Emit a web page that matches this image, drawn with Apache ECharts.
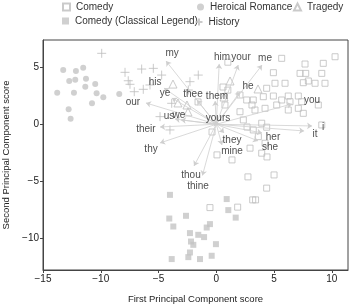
<!DOCTYPE html>
<html>
<head>
<meta charset="utf-8">
<script src="https://cdn.jsdelivr.net/npm/echarts@6/dist/echarts.min.js"></script>
<style>
  html, body { margin: 0; padding: 0; background: #fff; }
  #chart { width: 350px; height: 305px; }
</style>
</head>
<body>
<div id="chart"></div>
<script>
// scores, [PC1, PC2]
const comedy = [
  [5.66, 5.79], [7.68, 5.29], [9.26, 5.35], [10.28, 5.93], [4.94, 4.53], [7.25, 4.47],
  [7.74, 4.47], [9.13, 4.47], [5.08, 3.6], [5.95, 3.6], [7.53, 3.65], [7.97, 3.8],
  [8.55, 3.6], [9.41, 3.6], [4.36, 3.16], [2.05, 2.57], [2.63, 2.13], [3.2, 2.13],
  [4.07, 2.42], [4.94, 2.48], [5.66, 2.13], [6.23, 2.48], [6.38, 1.98], [7.1, 2.48],
  [7.39, 1.98], [8.83, 1.69], [4.22, 1.4], [5.23, 1.69], [6.23, 1.25], [7.1, 1.4],
  [7.53, 0.96], [2.05, 1.1], [2.34, 0.38], [3.93, 0.09], [4.36, -0.26], [3.2, -0.5],
  [3.64, -1.09], [4.22, -1.67], [2.92, -2.1], [3.93, -2.54], [9.13, -0.06], [-1.58, 1.96],
  [0.58, 3.27], [0.75, 1.69], [3.09, 1.69], [3.35, 1.25], [2.66, -0.24], [-0.37, -0.68],
  [0.06, -2.69], [1.36, -3.13], [4.39, -2.87], [2.74, -4.62], [-0.55, -7.32], [1.85, -7.28],
  [5.0, -4.45], [4.36, -5.61], [3.15, -6.64], [3.4, -6.64], [1.0, 3.0], [1.0, 5.45]
];
const comedyLegend = [
  [-4.01, -6.2], [0.9, -6.57], [1.04, -7.54], [1.68, -8.2], [-2.62, -8.04], [-4.07, -8.28],
  [-3.72, -8.98], [-0.55, -8.77], [-0.83, -9.07], [-2.28, -9.56], [-1.56, -9.71], [-1.06, -9.91],
  [-2.19, -10.3], [-1.99, -10.59], [-0.03, -10.53], [-2.28, -11.26], [-2.42, -11.67],
  [-3.86, -11.84], [-1.41, -11.84], [-0.4, -11.55]
];
const heroical = [
  [-13.25, 4.76], [-12.15, 4.68], [-11.52, 4.96], [-12.73, 3.81], [-12.21, 3.9], [-11.28, 3.99],
  [-13.77, 2.77], [-12.32, 2.77], [-11.34, 3.3], [-10.48, 3.54], [-10.36, 2.72], [-9.78, 2.37],
  [-8.4, 2.66], [-10.76, 1.84], [-12.78, 1.32], [-12.61, 0.49]
];
const history = [
  [-9.92, 6.23], [-7.9, 4.56], [-6.46, 4.85], [-7.62, 3.82], [-7.47, 3.51], [-7.1, 2.86],
  [-6.32, 3.07], [-5.45, 4.91], [-4.73, 4.32], [-5.74, 3.45], [-2.28, 3.74], [-1.56, 4.32],
  [-2.42, 3.01], [-3.86, 1.84], [-4.87, 0.67], [-4.01, -0.5]
];
const tragedy = [
  [-3.75, 3.53], [-3.32, 1.87], [-2.54, 1.69], [-2.45, 1.08], [1.19, 3.8], [0.67, 2.39], [3.61, 3.1]
];

// loadings: word, arrow tip, label spot
const words = ['my', 'him', 'your', 'me', 'his', 'ye', 'thee', 'them', 'he', 'you', 'i', 'it',
  'her', 'she', 'yours', 'they', 'mine', 'thou', 'thine', 'thy', 'their', 'our', 'us', 'we'];
const tips = [
  [-4.35, 5.55], [0.25, 5.3], [1.9, 5.2], [3.96, 5.2], [-4.53, 3.18], [-3.84, 2.3],
  [-1.67, 2.13], [-0.1, 2.04], [2.05, 2.83], [6.55, 1.78], [8.29, -0.15], [7.6, -0.59],
  [3.96, -0.76], [3.61, -1.46], [-0.1, 0.3], [0.67, -0.76], [0.49, -1.82], [-1.93, -3.66],
  [-1.2, -4.5], [-4.87, -1.64], [-4.87, -0.24], [-6.09, 1.87], [-3.58, 0.46], [-3.06, 0.38]
];
const spots = [
  [-3.82, 6.25], [0.49, 5.9], [2.14, 5.9], [4.22, 5.82], [-5.3, 3.7], [-4.44, 2.75],
  [-2.02, 2.66], [0.06, 2.48], [2.74, 3.36], [8.29, 2.13], [9.24, -0.23], [8.55, -0.85],
  [4.91, -1.11], [4.65, -1.99], [0.15, 0.55], [1.36, -1.38], [1.36, -2.34], [-2.19, -4.45],
  [-1.58, -5.41], [-5.65, -2.17], [-6.09, -0.41], [-7.22, 1.96], [-4.1, 0.73], [-3.23, 0.82]
];

const xTicks = [-15, -10, -5, 0, 5, 10];
const yTicks = [-10, -5, 0, 5];

const font = "'Liberation Sans', Arial, sans-serif";
const grey = "#bdbdbd";
const minus = (v) => String(v).replace("-", "\u2212");

const chart = echarts.init(document.getElementById("chart"));

// one legend per entry so they sit in two fixed columns like the original
function legendAt(name, left, top) {
  return {
    data: [name],
    left: left,
    top: top,
    selectedMode: false,
    itemWidth: 7,
    itemHeight: 7,
    itemGap: 0,
    padding: 0,
    textStyle: { fontFamily: font, fontSize: 10, color: "#333", padding: [0, 0, 0, 1] },
  };
}

const option = {
  animation: false,
  legend: [
    legendAt("Comedy", 62, 2),
    legendAt("Heroical Romance", 197, 2),
    legendAt("Tragedy", 293, 2),
    legendAt("Comedy (Classical Legend)", 62, 16),
    legendAt("History", 193, 16),
  ],
  grid: {
    left: 43, right: 2, top: 40, bottom: 35,
    outerBoundsMode: "none",
    containLabel: false,
    show: true, borderColor: "#444", borderWidth: 1,
  },
  xAxis: {
    type: "value",
    min: -15,
    max: 11.4,
    name: "First Principal Component score",
    nameLocation: "middle",
    nameGap: 24,
    nameTextStyle: { fontFamily: font, fontSize: 9.5, color: "#222" },
    splitLine: { show: false },
    axisLine: { show: true, onZero: false, lineStyle: { color: "#444" } },
    axisTick: { show: true, length: 3, customValues: xTicks, lineStyle: { color: "#444" } },
    axisLabel: {
      customValues: xTicks, margin: 4,
      fontFamily: font, fontSize: 10, color: "#222",
      formatter: minus,
    },
  },
  yAxis: {
    type: "value",
    min: -12.8,
    max: 7.4,
    name: "Second Principal Component score",
    nameLocation: "middle",
    nameGap: 30,
    nameTextStyle: { fontFamily: font, fontSize: 9.5, color: "#222" },
    splitLine: { show: false },
    axisLine: { show: true, onZero: false, lineStyle: { color: "#444" } },
    axisTick: { show: true, length: 3, customValues: yTicks, lineStyle: { color: "#444" } },
    axisLabel: {
      customValues: yTicks, margin: 4,
      fontFamily: font, fontSize: 10, color: "#222",
      formatter: minus,
    },
  },
  series: [
    {
      name: "Comedy",
      type: "scatter",
      symbol: "rect",
      symbolSize: 6,
      itemStyle: { color: "rgba(255,255,255,0)", borderColor: grey, borderWidth: 1 },
      data: comedy,
    },
    {
      name: "Comedy (Classical Legend)",
      type: "scatter",
      symbol: "rect",
      symbolSize: 6,
      itemStyle: { color: "#c4c4c4" },
      data: comedyLegend,
    },
    {
      name: "Heroical Romance",
      type: "scatter",
      symbol: "circle",
      symbolSize: 6,
      itemStyle: { color: "#c4c4c4" },
      data: heroical,
    },
    {
      name: "History",
      type: "scatter",
      symbol: "path://M5,0V10M0,5H10",
      symbolSize: 9,
      itemStyle: { color: "none", borderColor: grey, borderWidth: 1 },
      data: history,
    },
    {
      name: "Tragedy",
      type: "scatter",
      symbol: "triangle",
      symbolSize: 8,
      itemStyle: { color: "rgba(255,255,255,0)", borderColor: grey, borderWidth: 1 },
      data: tragedy,
    },
    {
      name: "loadings",
      type: "lines",
      coordinateSystem: "cartesian2d",
      symbol: ["none", "arrow"],
      symbolSize: 5,
      lineStyle: { color: "#cfcfcf", width: 0.8, opacity: 1 },
      data: tips.map((t) => ({ coords: [[0, 0], t] })),
      z: 3,
    },
    {
      name: "words",
      type: "scatter",
      symbolSize: 1,
      itemStyle: { color: "rgba(0,0,0,0)" },
      label: {
        show: true,
        position: "inside",
        fontFamily: font,
        fontSize: 10,
        color: "#222",
        formatter: (p) => p.value[2],
      },
      data: spots.map((s, i) => [s[0], s[1], words[i]]),
      z: 4,
    },
  ],
};

chart.setOption(option);
</script>
</body>
</html>
